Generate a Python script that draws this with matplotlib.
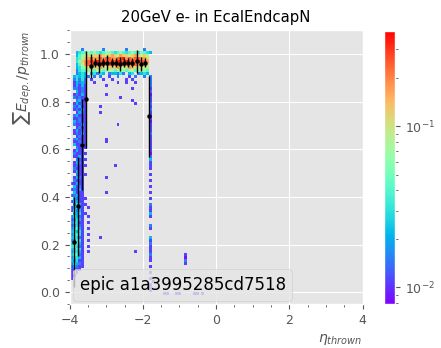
import numpy as np
import matplotlib
matplotlib.use('Agg')
import matplotlib.pyplot as plt
from matplotlib.colors import LogNorm
from matplotlib.lines import Line2D

plt.style.use('ggplot')

# binning of the 2D histogram (eta_thrown vs E_dep/p_thrown)
eta_edges = np.linspace(-4, 4, 101)
ratio_edges = np.linspace(-0.05, 1.1, 93)

# cell contents: each character of the map stands for one of these levels
levels = {'1': 0.0085, '2': 0.011, '3': 0.015, '4': 0.022, '5': 0.03,
          '6': 0.042, '7': 0.06, '8': 0.085, '9': 0.12, 'o': 0.17,
          'r': 0.24, 'R': 0.33}

# rows from ratio 1.05 (top) down to 0.0, columns from eta = -4 in 0.08 steps
hist_map = [
    "",
    "",
    "....3......3.......3.....3...",
    "..45667676567765676567657654.",
    "..46789899o989o98o9989o9898..",
    "..5689oroororroorrRororroo9..",
    "..579orRrRrRrrRrRRrRrRrRrro..",
    "..468orrrorrororrorrorroro9..",
    "..45789o99o98999o989o998988..",
    "..3566786876787687767867876..",
    "..3454.45354.344353.45.3454..",
    ".454543.3.3..2..3...2.3..3.3.",
    ".35353.2...2..2....2.2.....3.",
    ".24343..2.......2..2..2....3.",
    ".24242......2..............3.",
    ".33232...............2.....2.",
    "..4232.....................3.",
    ".23242......2..............1.",
    ".32322...........2.........2.",
    "..3422...............2.....2.",
    ".24232................2....3.",
    ".32422....2................2.",
    ".23242.....................3.",
    "..2432....2................2.",
    ".34222.....................2.",
    ".22322.....................2.",
    ".42322.....................1.",
    ".32242..........2..........2.",
    "..2322.....................2.",
    ".24232.....................2.",
    ".23242.....................3.",
    "..2322.....................2.",
    ".34222......2..............2.",
    ".22322......2..............2.",
    ".42242.....................2.",
    "..3222.....................2.",
    ".2422......................2.",
    ".32222.....................1.",
    ".2242......................3.",
    "..3222.....................4.",
    ".2432......................2.",
    ".23222.........2...........2.",
    ".3222......................2.",
    ".2422........................",
    "..3222.....................2.",
    ".2432.......2.................",
    ".3222......................2.",
    "22422........................",
    ".4232......................2.",
    "23242........................",
    ".4222.......2..............2.",
    "23422........................",
    ".43222.....................2.",
    "24422........................",
    ".35422.....................3.",
    "24532.2....................2.",
    "25342......................2.",
    ".44522.....................4.",
    "35432.2....................2.",
    "24542........................",
    "35522.2......................",
    "24532......................3.",
    "35642.2....................2.",
    "45452........................",
    "35652.2......................",
    "45532.....2................4.",
    "34652.2....................2.",
    "45642......................3.",
    "56532.2....................2.",
    "45652......................2.",
    "35542.2...............2....2.",
    "46632......................3.",
    "35542......................2.",
    "44522......................2.",
    "35432........................",
    "24322......................2.",
    "2322.........................",
    "2.2........................2.",
    "22...........................",
    "2..........................2.",
    "............................2",
    "...........................2.",
    "...........................2.",
    "...........................2.",
]

# isolated cells outside the mapped region
extra_eta = [-0.84, -0.84, -0.84, -0.84, -1.40, -1.32, -1.08, -1.00, -0.60, -0.52, -0.36]
extra_ratio = [0.115, 0.128, 0.140, 0.155, -0.006, -0.006, -0.006, -0.006, -0.006, -0.006, -0.006]
extra_val = [0.011, 0.015, 0.0085, 0.011, 0.011, 0.011, 0.011, 0.011, 0.011, 0.011, 0.011]

# profile: mean and spread of E_dep/p per eta bin
prof_eta = [-3.886, -3.771, -3.657, -3.543, -3.429, -3.314, -3.2, -3.086, -2.971,
            -2.857, -2.743, -2.629, -2.514, -2.4, -2.286, -2.171, -2.057, -1.943, -1.829]
prof_mean = [0.21, 0.36, 0.62, 0.81, 0.95, 0.965, 0.96, 0.965, 0.965,
             0.965, 0.965, 0.96, 0.965, 0.965, 0.965, 0.97, 0.96, 0.965, 0.74]
prof_err = [0.19, 0.21, 0.19, 0.205, 0.05, 0.02, 0.04, 0.02, 0.03,
            0.02, 0.02, 0.03, 0.02, 0.02, 0.02, 0.05, 0.03, 0.02, 0.17]

ncols = 29
nrows = len(hist_map)
xs, ys, ws = [], [], []
for i, row in enumerate(hist_map):
    r = nrows - 1 - i
    for j, ch in enumerate(row.ljust(ncols, '.')[:ncols]):
        if ch in levels:
            xs.append(-4 + 0.08 * j + 0.04)
            ys.append(0.0125 * r + 0.00625)
            ws.append(levels[ch])
xs += extra_eta
ys += extra_ratio
ws += extra_val

fig = plt.figure(figsize=(4.41, 3.48), dpi=100)
ax = fig.add_axes([0.158, 0.1264, 0.664, 0.786])
cax = fig.add_axes([0.871, 0.1264, 0.025, 0.785])

h = ax.hist2d(xs, ys, bins=[eta_edges, ratio_edges], weights=ws, cmap='rainbow',
              norm=LogNorm(vmin=0.0079, vmax=0.39), cmin=1e-6)
ax.errorbar(prof_eta, prof_mean, yerr=prof_err, fmt='o', color='k', ms=2.2, lw=1.0,
            capsize=0)

ax.set_xlim(-4, 4)
ax.set_ylim(-0.05, 1.1)
ax.minorticks_on()
ax.grid(which='minor', visible=False)
ax.tick_params(labelsize=9)
ax.set_title('20GeV e- in EcalEndcapN', fontsize=10.7)
ax.set_xlabel(r'$\eta_{thrown}$', loc='right', fontsize=10)
ax.set_ylabel(r'$\sum E_{dep.}/p_{thrown}$', loc='top', fontsize=10)
ax.legend(handles=[Line2D([], [], lw=0)], labels=['epic a1a3995285cd7518'],
          loc='lower left', handlelength=0, handletextpad=0, fontsize=12,
          borderaxespad=0.2)

cb = fig.colorbar(h[3], cax=cax)
cb.ax.tick_params(labelsize=9)

fig.savefig('out.png', dpi=100)
